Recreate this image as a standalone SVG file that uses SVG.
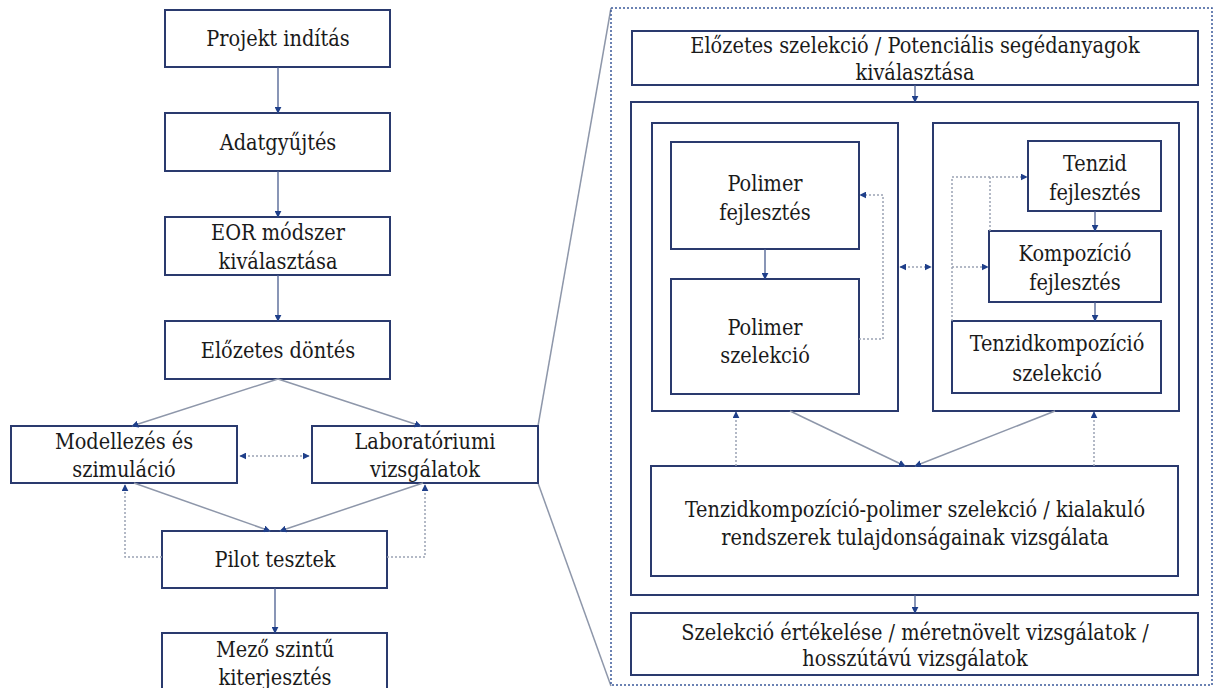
<svg xmlns="http://www.w3.org/2000/svg" width="1217" height="688" viewBox="0 0 1217 688">
<style>
.box{fill:#fff;stroke:#2a3a6e;stroke-width:2}
.grp{fill:none;stroke:#2a3a6e;stroke-width:2}
.t{font-family:'DejaVu Serif Condensed','DejaVu Serif',serif;font-size:21.5px;fill:#1a1a1a;text-anchor:middle}
.ln{fill:none;stroke:#8e97aa;stroke-width:1.5}
.ar{fill:none;stroke:#4a5d8f;stroke-width:1.3}
.dt{fill:none;stroke:#9aa2b4;stroke-width:1.5;stroke-dasharray:2 2}
.panel{fill:none;stroke:#3b5a9a;stroke-width:1.5;stroke-dasharray:2 2}
</style>
<defs>
<marker id="a" viewBox="0 0 10 10" refX="9" refY="5" markerWidth="7" markerHeight="7" orient="auto-start-reverse" markerUnits="userSpaceOnUse"><path d="M0,0 L10,5 L0,10 z" fill="#1f3f8a"/></marker>
</defs>
<rect width="1217" height="688" fill="#fff"/>
<g id="zoomlines">
<line x1="538" y1="426" x2="611" y2="8" class="ln" stroke-width="1"/>
<line x1="538" y1="483" x2="611" y2="686" class="ln" stroke-width="1"/>
</g>
<g id="panel"><rect x="611" y="8" width="601" height="677" class="panel"/></g>
<g id="n1"><rect x="165" y="10" width="225" height="57" class="box"/><text x="278" y="46" class="t">Projekt indítás</text></g>
<g id="n2"><rect x="165" y="113" width="225" height="58" class="box"/><text x="278" y="150" class="t">Adatgyűjtés</text></g>
<g id="n3"><rect x="165" y="217" width="225" height="58" class="box"/><text x="278" y="240" class="t">EOR módszer</text><text x="278" y="269" class="t">kiválasztása</text></g>
<g id="n4"><rect x="165" y="321" width="225" height="58" class="box"/><text x="278" y="358" class="t">Előzetes döntés</text></g>
<g id="n5"><rect x="11" y="426" width="226" height="57" class="box"/><text x="124" y="449" class="t">Modellezés és</text><text x="124" y="477" class="t">szimuláció</text></g>
<g id="n6"><rect x="312" y="426" width="226" height="57" class="box"/><text x="425" y="449" class="t">Laboratóriumi</text><text x="425" y="477" class="t">vizsgálatok</text></g>
<g id="n7"><rect x="162" y="531" width="225" height="57" class="box"/><text x="275" y="567" class="t">Pilot tesztek</text></g>
<g id="n8"><rect x="162" y="633" width="225" height="60" class="box"/><text x="275" y="657" class="t">Mező szintű</text><text x="275" y="685" class="t">kiterjesztés</text></g>
<g id="r1"><rect x="632" y="31" width="566" height="54" class="box"/><text x="915" y="53" class="t">Előzetes szelekció / Potenciális segédanyagok</text><text x="915" y="80" class="t">kiválasztása</text></g>
<g id="container"><rect x="631" y="102" width="567" height="493" class="grp"/></g>
<g id="polgroup"><rect x="652" y="123" width="246" height="288" class="grp"/></g>
<g id="tenzgroup"><rect x="933" y="123" width="246" height="288" class="grp"/></g>
<g id="p1"><rect x="671" y="142" width="188" height="107" class="box"/><text x="765" y="191" class="t">Polimer</text><text x="765" y="220" class="t">fejlesztés</text></g>
<g id="p2"><rect x="671" y="279" width="188" height="115" class="box"/><text x="765" y="335" class="t">Polimer</text><text x="765" y="363" class="t">szelekció</text></g>
<g id="t1"><rect x="1028" y="141" width="133" height="70" class="box"/><text x="1095" y="171" class="t">Tenzid</text><text x="1095" y="200" class="t">fejlesztés</text></g>
<g id="t2"><rect x="989" y="231" width="172" height="71" class="box"/><text x="1075" y="261" class="t">Kompozíció</text><text x="1075" y="290" class="t">fejlesztés</text></g>
<g id="t3"><rect x="952" y="321" width="209" height="72" class="box"/><text x="1057" y="351" class="t">Tenzidkompozíció</text><text x="1057" y="381" class="t">szelekció</text></g>
<g id="r2"><rect x="651" y="466" width="527" height="110" class="box"/><text x="915" y="517" class="t">Tenzidkompozíció-polimer szelekció / kialakuló</text><text x="915" y="545" class="t">rendszerek tulajdonságainak vizsgálata</text></g>
<g id="r3"><rect x="631" y="613" width="567" height="62" class="box"/><text x="915" y="640" class="t">Szelekció értékelése / méretnövelt vizsgálatok /</text><text x="915" y="666" class="t">hosszútávú vizsgálatok</text></g>
<g id="connectors">
<line x1="278" y1="67" x2="278" y2="113" class="ar" marker-end="url(#a)"/>
<line x1="278" y1="171" x2="278" y2="217" class="ar" marker-end="url(#a)"/>
<line x1="278" y1="275" x2="278" y2="321" class="ar" marker-end="url(#a)"/>
<line x1="278" y1="379" x2="132" y2="426" class="ln" marker-end="url(#a)"/>
<line x1="278" y1="379" x2="421" y2="426" class="ln" marker-end="url(#a)"/>
<line x1="240" y1="456" x2="309" y2="456" class="dt" marker-start="url(#a)" marker-end="url(#a)"/>
<line x1="134" y1="483" x2="270" y2="531" class="ln" marker-end="url(#a)"/>
<line x1="423" y1="483" x2="280" y2="531" class="ln" marker-end="url(#a)"/>
<polyline points="162,557 125,557 125,485" class="dt" marker-end="url(#a)"/>
<polyline points="387,557 425,557 425,485" class="dt" marker-end="url(#a)"/>
<line x1="275" y1="588" x2="275" y2="633" class="ar" marker-end="url(#a)"/>
<line x1="915" y1="85" x2="915" y2="102" class="ar" marker-end="url(#a)"/>
<line x1="765" y1="249" x2="765" y2="279" class="ar" marker-end="url(#a)"/>
<polyline points="859,339 883,339 883,195 860,195" class="dt" marker-end="url(#a)"/>
<line x1="900" y1="267" x2="931" y2="267" class="dt" marker-start="url(#a)" marker-end="url(#a)"/>
<line x1="1095" y1="211" x2="1095" y2="231" class="ar" marker-end="url(#a)"/>
<line x1="1095" y1="302" x2="1095" y2="321" class="ar" marker-end="url(#a)"/>
<polyline points="952,321 952,177 1027,177" class="dt" marker-end="url(#a)"/>
<polyline points="990,231 990,177" class="dt"/>
<polyline points="952,267 988,267" class="dt" marker-end="url(#a)"/>
<line x1="790" y1="411" x2="905" y2="466" class="ln" marker-end="url(#a)"/>
<line x1="1055" y1="411" x2="915" y2="466" class="ln" marker-end="url(#a)"/>
<line x1="736" y1="466" x2="736" y2="412" class="dt" marker-end="url(#a)"/>
<line x1="1094" y1="466" x2="1094" y2="412" class="dt" marker-end="url(#a)"/>
<line x1="915" y1="595" x2="915" y2="613" class="ar" marker-end="url(#a)"/>
</g>
</svg>
